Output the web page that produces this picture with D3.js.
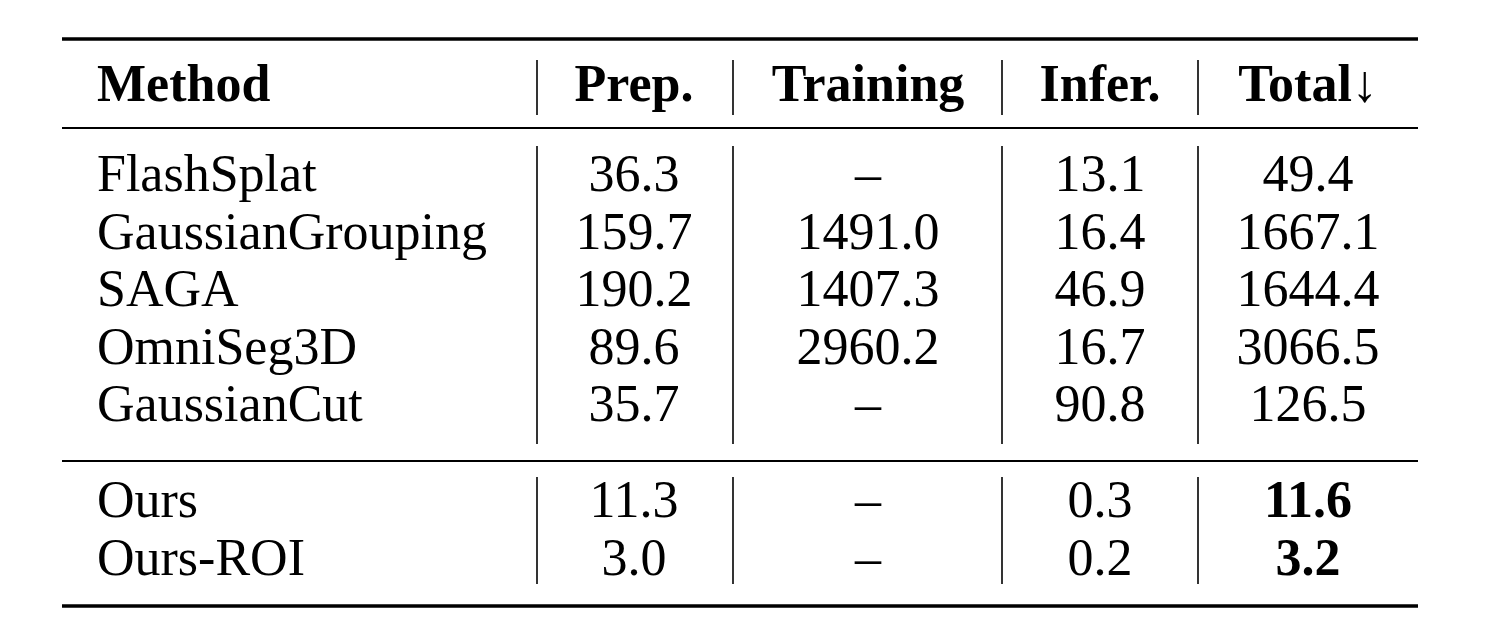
<!DOCTYPE html>
<html><head><meta charset="utf-8">
<script src="https://cdn.jsdelivr.net/npm/d3@7"></script>
<style>body{margin:0;background:#fff}text{font-family:"Liberation Serif","DejaVu Serif",serif;fill:#000}</style>
</head><body>
<svg id="c" width="1500" height="624"></svg>
<script>
const headers = ["Method", "Prep.", "Training", "Infer.", "Total\u2193"];
const methods = ["FlashSplat", "GaussianGrouping", "SAGA", "OmniSeg3D", "GaussianCut"];
const prep = ["36.3", "159.7", "190.2", "89.6", "35.7"];
const training = ["\u2013", "1491.0", "1407.3", "2960.2", "\u2013"];
const infer = ["13.1", "16.4", "46.9", "16.7", "90.8"];
const total = ["49.4", "1667.1", "1644.4", "3066.5", "126.5"];
const oursMethods = ["Ours", "Ours-ROI"];
const oursPrep = ["11.3", "3.0"];
const oursTraining = ["\u2013", "\u2013"];
const oursInfer = ["0.3", "0.2"];
const oursTotal = ["11.6", "3.2"];

const svg = d3.select("#c");
const x = d3.scaleOrdinal().domain(headers).range([97, 634, 868, 1100, 1308]);
const seps = [537, 733, 1002, 1198];
const fs = 52;

function rule(y, w) {
  svg.append("line").attr("x1", 62).attr("x2", 1418).attr("y1", y).attr("y2", y)
    .attr("stroke", "#000").attr("stroke-width", w);
}
function vseps(y1, y2) {
  seps.forEach(s => svg.append("line").attr("x1", s).attr("x2", s).attr("y1", y1).attr("y2", y2)
    .attr("stroke", "#000").attr("stroke-width", 1.6));
}
function rows(cols, y, boldTotal) {
  const n = cols[0].length;
  for (let i = 0; i < n; i++) {
    cols.forEach((c, j) => {
      svg.append("text").attr("x", x(headers[j])).attr("y", y(i))
        .attr("text-anchor", j === 0 ? "start" : "middle")
        .attr("font-size", fs)
        .attr("font-weight", boldTotal && j === 4 ? "bold" : "normal")
        .text(c[i]);
    });
  }
}

rule(39, 3.5);
headers.forEach((h, j) => svg.append("text").attr("x", x(h)).attr("y", 101)
  .attr("text-anchor", j === 0 ? "start" : "middle").attr("font-size", fs)
  .attr("font-weight", "bold").text(h));
vseps(60, 115);
rule(128, 2);

const y1 = d3.scaleLinear().domain([0, 4]).range([191, 421]);
rows([methods, prep, training, infer, total], y1, false);
vseps(146, 444);
rule(461, 2);

const y2 = d3.scaleLinear().domain([0, 1]).range([517, 575]);
rows([oursMethods, oursPrep, oursTraining, oursInfer, oursTotal], y2, true);
vseps(477, 584);
rule(606, 3.5);
</script>
</body></html>
